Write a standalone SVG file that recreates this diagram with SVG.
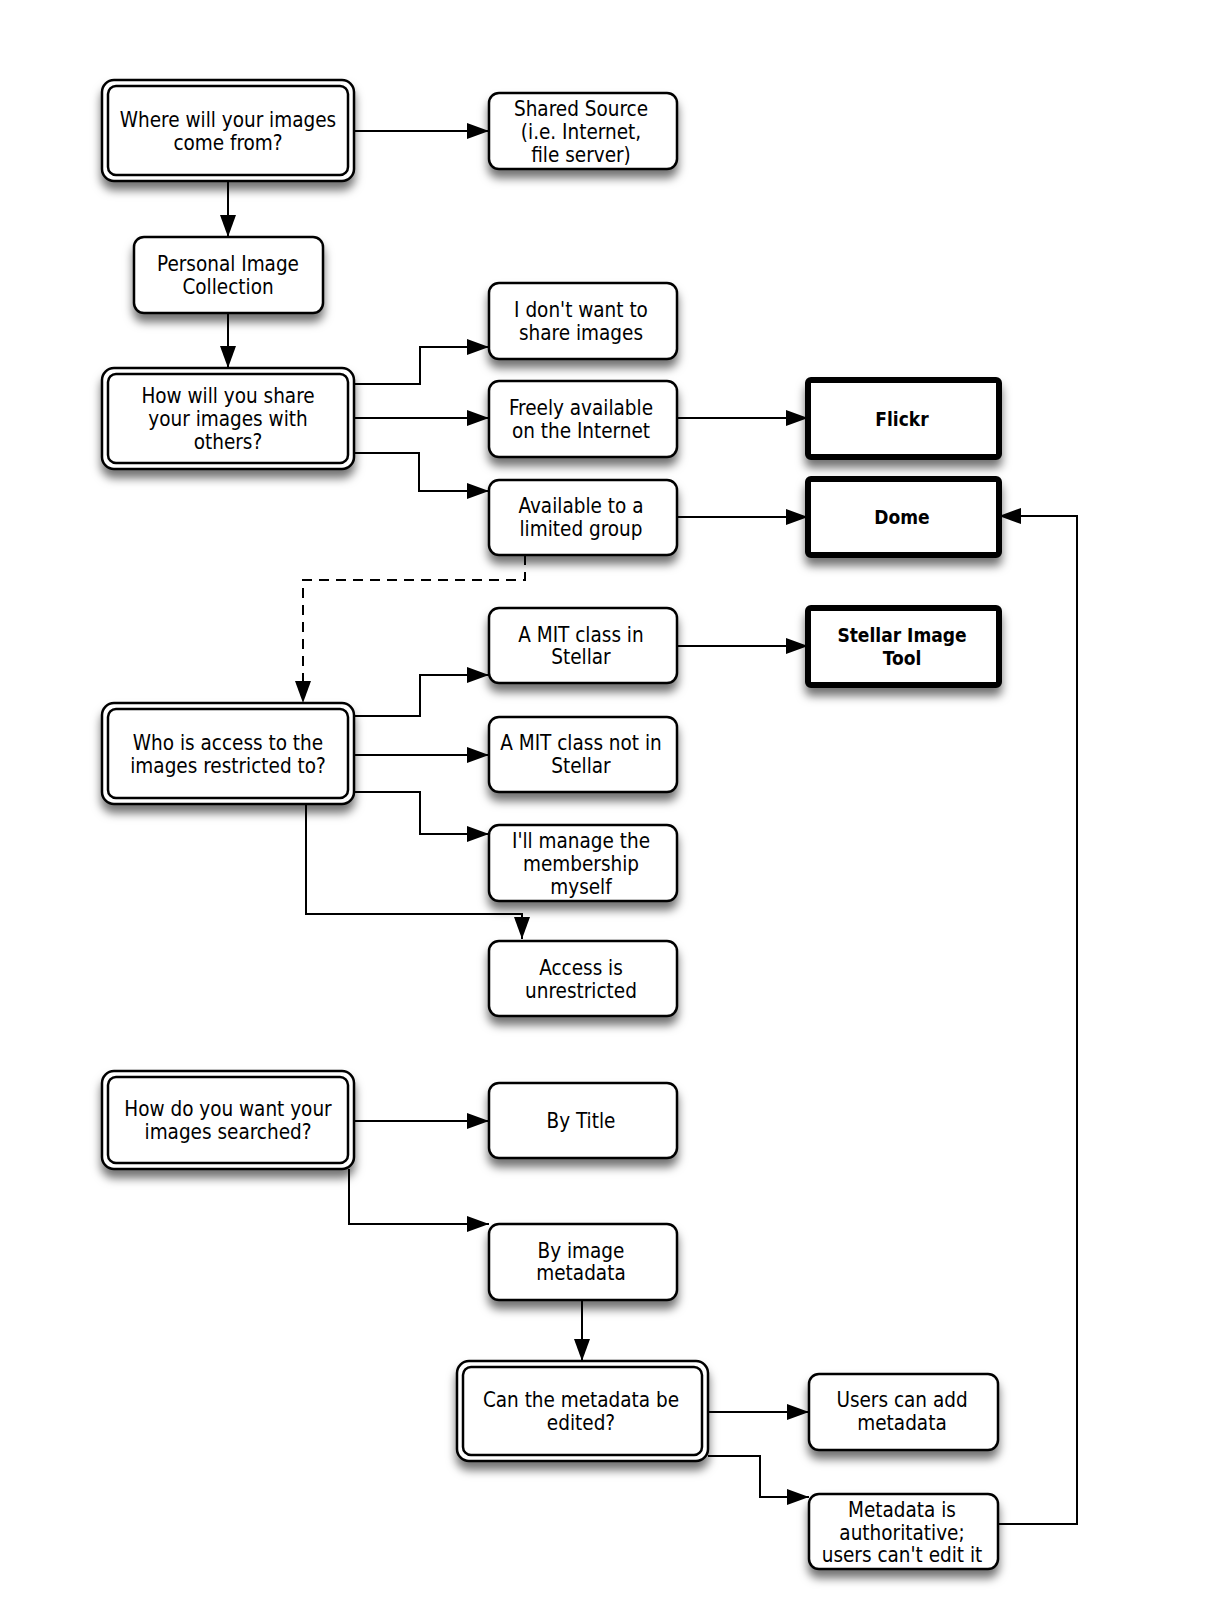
<svg xmlns="http://www.w3.org/2000/svg" width="1225" height="1600" viewBox="0 0 1225 1600">
<defs>
<filter id="sh" x="-20%" y="-20%" width="140%" height="170%">
<feDropShadow dx="0" dy="8" stdDeviation="5" flood-color="#000" flood-opacity="0.55"/>
</filter>
<marker id="ah" viewBox="0 0 22 16" refX="22" refY="8" markerWidth="22" markerHeight="16" markerUnits="userSpaceOnUse" orient="auto">
<path d="M0,0 L22,8 L0,16 Z" fill="#000"/>
</marker>
</defs>
<style>
.b{fill:#fff;stroke:#000;stroke-width:2.5}
.i{fill:none;stroke:#000;stroke-width:2.5}
.t{fill:#fff;stroke:#000;stroke-width:6}
text{font-family:"DejaVu Sans Condensed","DejaVu Sans",sans-serif;font-size:20.5px;text-anchor:middle;fill:#000}
.bd{font-weight:bold;font-size:19px}
.c{fill:none;stroke:#000;stroke-width:2}
.d{fill:none;stroke:#000;stroke-width:2;stroke-dasharray:10,7}
</style>
<rect width="1225" height="1600" fill="#fff"/>
<g id="connectors">
<path class="c" d="M354,131 H489" marker-end="url(#ah)"/>
<path class="c" d="M228,181 V237" marker-end="url(#ah)"/>
<path class="c" d="M228,313 V368" marker-end="url(#ah)"/>
<path class="c" d="M354,384 H420 V347 H489" marker-end="url(#ah)"/>
<path class="c" d="M354,418 H489" marker-end="url(#ah)"/>
<path class="c" d="M354,453 H419 V491 H489" marker-end="url(#ah)"/>
<path class="c" d="M677,418 H808" marker-end="url(#ah)"/>
<path class="c" d="M677,517 H808" marker-end="url(#ah)"/>
<path class="d" d="M525,555 V580 H303 V703" marker-end="url(#ah)"/>
<path class="c" d="M677,646 H808" marker-end="url(#ah)"/>
<path class="c" d="M354,716 H420 V675 H489" marker-end="url(#ah)"/>
<path class="c" d="M354,755 H489" marker-end="url(#ah)"/>
<path class="c" d="M354,792 H420 V834 H489" marker-end="url(#ah)"/>
<path class="c" d="M306,804 V914 H522 V939" marker-end="url(#ah)"/>
<path class="c" d="M354,1121 H489" marker-end="url(#ah)"/>
<path class="c" d="M349,1169 V1224 H489" marker-end="url(#ah)"/>
<path class="c" d="M582,1300 V1361" marker-end="url(#ah)"/>
<path class="c" d="M708,1412 H809" marker-end="url(#ah)"/>
<path class="c" d="M708,1456 H760 V1497 H809" marker-end="url(#ah)"/>
<path class="c" d="M998,1524 H1077 V516 H999" marker-end="url(#ah)"/>
</g>
<g id="n-where">
<rect class="b" x="102" y="80" width="252" height="101" rx="12" filter="url(#sh)"/>
<rect class="i" x="108" y="86" width="240" height="89" rx="8"/>
<text x="228" y="127">Where will your images</text>
<text x="228" y="150">come from?</text>
</g>
<g id="n-shared">
<rect class="b" x="489" y="93" width="188" height="76" rx="10" filter="url(#sh)"/>
<text x="581" y="116">Shared Source</text>
<text x="581" y="139">(i.e. Internet,</text>
<text x="581" y="162">file server)</text>
</g>
<g id="n-personal">
<rect class="b" x="134" y="237" width="189" height="76" rx="10" filter="url(#sh)"/>
<text x="228" y="271">Personal Image</text>
<text x="228" y="294">Collection</text>
</g>
<g id="n-how">
<rect class="b" x="102" y="368" width="252" height="101" rx="12" filter="url(#sh)"/>
<rect class="i" x="108" y="374" width="240" height="89" rx="8"/>
<text x="228" y="403">How will you share</text>
<text x="228" y="426">your images with</text>
<text x="228" y="449">others?</text>
</g>
<g id="n-dont">
<rect class="b" x="489" y="283" width="188" height="76" rx="10" filter="url(#sh)"/>
<text x="581" y="317">I don't want to</text>
<text x="581" y="340">share images</text>
</g>
<g id="n-freely">
<rect class="b" x="489" y="381" width="188" height="76" rx="10" filter="url(#sh)"/>
<text x="581" y="415">Freely available</text>
<text x="581" y="438">on the Internet</text>
</g>
<g id="n-available">
<rect class="b" x="489" y="480" width="188" height="75" rx="10" filter="url(#sh)"/>
<text x="581" y="513">Available to a</text>
<text x="581" y="536">limited group</text>
</g>
<g id="n-flickr">
<rect class="t" x="808" y="380" width="191" height="77" rx="3" filter="url(#sh)"/>
<text class="bd" x="902" y="426">Flickr</text>
</g>
<g id="n-dome">
<rect class="t" x="808" y="479" width="191" height="76" rx="3" filter="url(#sh)"/>
<text class="bd" x="902" y="524">Dome</text>
</g>
<g id="n-stellar-tool">
<rect class="t" x="808" y="608" width="191" height="77" rx="3" filter="url(#sh)"/>
<text class="bd" x="902" y="642">Stellar Image</text>
<text class="bd" x="902" y="665">Tool</text>
</g>
<g id="n-mit-in">
<rect class="b" x="489" y="608" width="188" height="75" rx="10" filter="url(#sh)"/>
<text x="581" y="642">A MIT class in</text>
<text x="581" y="664">Stellar</text>
</g>
<g id="n-who">
<rect class="b" x="102" y="703" width="252" height="101" rx="12" filter="url(#sh)"/>
<rect class="i" x="108" y="709" width="240" height="89" rx="8"/>
<text x="228" y="750">Who is access to the</text>
<text x="228" y="773">images restricted to?</text>
</g>
<g id="n-mit-not">
<rect class="b" x="489" y="717" width="188" height="75" rx="10" filter="url(#sh)"/>
<text x="581" y="750">A MIT class not in</text>
<text x="581" y="773">Stellar</text>
</g>
<g id="n-manage">
<rect class="b" x="489" y="825" width="188" height="76" rx="10" filter="url(#sh)"/>
<text x="581" y="848">I'll manage the</text>
<text x="581" y="871">membership</text>
<text x="581" y="894">myself</text>
</g>
<g id="n-access">
<rect class="b" x="489" y="941" width="188" height="75" rx="10" filter="url(#sh)"/>
<text x="581" y="975">Access is</text>
<text x="581" y="998">unrestricted</text>
</g>
<g id="n-search">
<rect class="b" x="102" y="1071" width="252" height="98" rx="12" filter="url(#sh)"/>
<rect class="i" x="108" y="1077" width="240" height="86" rx="8"/>
<text x="228" y="1116">How do you want your</text>
<text x="228" y="1139">images searched?</text>
</g>
<g id="n-title">
<rect class="b" x="489" y="1083" width="188" height="75" rx="10" filter="url(#sh)"/>
<text x="581" y="1128">By Title</text>
</g>
<g id="n-meta">
<rect class="b" x="489" y="1224" width="188" height="76" rx="10" filter="url(#sh)"/>
<text x="581" y="1258">By image</text>
<text x="581" y="1280">metadata</text>
</g>
<g id="n-edit">
<rect class="b" x="457" y="1361" width="251" height="100" rx="12" filter="url(#sh)"/>
<rect class="i" x="463" y="1367" width="239" height="88" rx="8"/>
<text x="581" y="1407">Can the metadata be</text>
<text x="581" y="1430">edited?</text>
</g>
<g id="n-users">
<rect class="b" x="809" y="1374" width="189" height="76" rx="10" filter="url(#sh)"/>
<text x="902" y="1407">Users can add</text>
<text x="902" y="1430">metadata</text>
</g>
<g id="n-auth">
<rect class="b" x="809" y="1494" width="189" height="75" rx="10" filter="url(#sh)"/>
<text x="902" y="1517">Metadata is</text>
<text x="902" y="1540">authoritative;</text>
<text x="902" y="1562">users can't edit it</text>
</g>
</svg>
